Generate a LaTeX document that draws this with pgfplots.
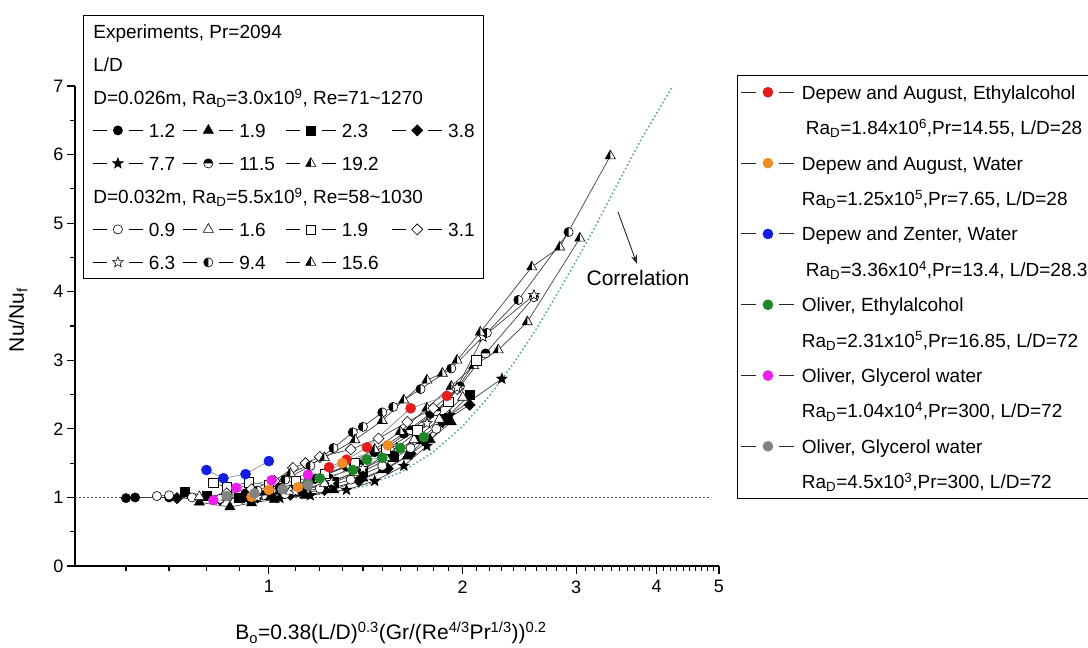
\documentclass[border=0pt]{standalone}
\usepackage{fontspec}
\setmainfont{Liberation Sans}
\usepackage{pgfplots}
\pgfplotsset{compat=1.18}
\usetikzlibrary{arrows.meta}

\definecolor{cRed}{RGB}{228,28,28}
\definecolor{cOrange}{RGB}{238,140,40}
\definecolor{cBlue}{RGB}{20,30,225}
\definecolor{cGreen}{RGB}{30,135,40}
\definecolor{cMag}{RGB}{235,30,235}
\definecolor{cGray}{RGB}{130,130,130}
\definecolor{cCorr}{RGB}{95,165,175}

\newcommand\legfont{\fontsize{19}{22}\selectfont}
\newcommand\tickfont{\fontsize{18}{20}\selectfont}
\newcommand\labfont{\fontsize{21}{24}\selectfont}
% fixed-height strut for the key rows
\newcommand\lstrut{\rule[-6.5pt]{0pt}{22pt}}

% triangle, left half filled
\pgfdeclareplotmark{halftri}{%
  \begin{pgfscope}\pgfsetfillcolor{white}%
  \pgfpathmoveto{\pgfqpoint{0pt}{\pgfplotmarksize}}%
  \pgfpathlineto{\pgfqpoint{-.866\pgfplotmarksize}{-.5\pgfplotmarksize}}%
  \pgfpathlineto{\pgfqpoint{.866\pgfplotmarksize}{-.5\pgfplotmarksize}}%
  \pgfpathclose\pgfusepathqfill\end{pgfscope}%
  \pgfpathmoveto{\pgfqpoint{0pt}{\pgfplotmarksize}}%
  \pgfpathlineto{\pgfqpoint{-.866\pgfplotmarksize}{-.5\pgfplotmarksize}}%
  \pgfpathlineto{\pgfqpoint{0pt}{-.5\pgfplotmarksize}}%
  \pgfpathclose\pgfusepathqfill
  \pgfpathmoveto{\pgfqpoint{0pt}{\pgfplotmarksize}}%
  \pgfpathlineto{\pgfqpoint{-.866\pgfplotmarksize}{-.5\pgfplotmarksize}}%
  \pgfpathlineto{\pgfqpoint{.866\pgfplotmarksize}{-.5\pgfplotmarksize}}%
  \pgfpathclose\pgfusepathqstroke}
% circle, left half filled
\pgfdeclareplotmark{halfcircL}{%
  \begin{pgfscope}\pgfsetfillcolor{white}%
  \pgfpathcircle{\pgfpointorigin}{\pgfplotmarksize}\pgfusepathqfill\end{pgfscope}%
  \pgfpathmoveto{\pgfqpoint{0pt}{\pgfplotmarksize}}%
  \pgfpatharc{90}{270}{\pgfplotmarksize}\pgfpathclose\pgfusepathqfill
  \pgfpathcircle{\pgfpointorigin}{\pgfplotmarksize}\pgfusepathqstroke}
% circle, upper half filled
\pgfdeclareplotmark{halfcircT}{%
  \begin{pgfscope}\pgfsetfillcolor{white}%
  \pgfpathcircle{\pgfpointorigin}{\pgfplotmarksize}\pgfusepathqfill\end{pgfscope}%
  \pgfpathmoveto{\pgfqpoint{\pgfplotmarksize}{0pt}}%
  \pgfpatharc{0}{180}{\pgfplotmarksize}\pgfpathclose\pgfusepathqfill
  \pgfpathcircle{\pgfpointorigin}{\pgfplotmarksize}\pgfusepathqstroke}
% square rotated by 45 degrees
\pgfdeclareplotmark{fdiam}{%
  \pgfpathmoveto{\pgfqpoint{0pt}{1.2\pgfplotmarksize}}%
  \pgfpathlineto{\pgfqpoint{1.2\pgfplotmarksize}{0pt}}%
  \pgfpathlineto{\pgfqpoint{0pt}{-1.2\pgfplotmarksize}}%
  \pgfpathlineto{\pgfqpoint{-1.2\pgfplotmarksize}{0pt}}%
  \pgfpathclose\pgfusepathqfillstroke}
% five-pointed star
\pgfdeclareplotmark{fstar}{%
  \pgfpathmoveto{\pgfqpointpolar{90}{1.2\pgfplotmarksize}}%
  \pgfpathlineto{\pgfqpointpolar{126}{.5\pgfplotmarksize}}%
  \pgfpathlineto{\pgfqpointpolar{162}{1.2\pgfplotmarksize}}%
  \pgfpathlineto{\pgfqpointpolar{198}{.5\pgfplotmarksize}}%
  \pgfpathlineto{\pgfqpointpolar{234}{1.2\pgfplotmarksize}}%
  \pgfpathlineto{\pgfqpointpolar{270}{.5\pgfplotmarksize}}%
  \pgfpathlineto{\pgfqpointpolar{306}{1.2\pgfplotmarksize}}%
  \pgfpathlineto{\pgfqpointpolar{342}{.5\pgfplotmarksize}}%
  \pgfpathlineto{\pgfqpointpolar{18}{1.2\pgfplotmarksize}}%
  \pgfpathlineto{\pgfqpointpolar{54}{.5\pgfplotmarksize}}%
  \pgfpathclose\pgfusepathqfillstroke}

\pgfplotsset{
  expt/.style={black!75, line width=0.7pt, mark size=4.6pt,
    mark options={draw=black, fill=black, solid, line width=0.6pt}},
  open/.style={mark options={draw=black, fill=white, solid, line width=0.6pt}},
  tri/.style={mark size=5.8pt},
  lit/.style={black!50, line width=0.6pt, mark=*, mark size=5pt,
    mark options={draw=#1, fill=#1, solid}},
  symleg/.style={legend image code/.code={%
    \path[draw=none, fill=none] (0pt,0pt) -- (56pt,0pt);
    \draw[black, line width=0.9pt] (0pt,0pt)--(14pt,0pt) (36pt,0pt)--(50pt,0pt);
    \draw[##1] plot coordinates {(25pt,0pt)};}},
  litleg/.style={legend image code/.code={%
    \path[draw=none, fill=none] (0pt,0pt) -- (61pt,0pt);
    \draw[black!85, line width=0.9pt] (0pt,0pt)--(15pt,0pt) (38pt,0pt)--(53pt,0pt);
    \draw[##1] plot coordinates {(27pt,0pt)};}},
  headleg/.style={legend image code/.code={%
    \node[overlay, anchor=west, inner sep=0pt, draw=none] at (0pt,0pt) {#1\lstrut};}},
}

\begin{document}
\begin{tikzpicture}[x=1pt,y=1pt]
\useasboundingbox (0,0) rectangle (1088,648);

\begin{axis}[
  at={(75pt,82pt)}, anchor=south west,
  scale only axis, width=644pt, height=480pt,
  xmode=log, xmin=0.5, xmax=5, ymin=0, ymax=7,
  axis lines*=left,
  axis line style={line width=1.4pt},
  tick align=outside,
  xtick={1,2,3,4,5}, xticklabels={1,2,3,4,5},
  minor xtick={0.6,0.7,0.8,0.9,1.1,1.2,1.3,1.4,1.5,1.6,1.7,1.8,1.9,
    2.1,2.2,2.3,2.4,2.5,2.6,2.7,2.8,2.9,3.1,3.2,3.3,3.4,3.5,3.6,3.7,3.8,3.9,
    4.1,4.2,4.3,4.4,4.5,4.6,4.7,4.8,4.9},
  ytick={0,1,2,3,4,5,6,7},
  minor ytick={0.5,1.5,2.5,3.5,4.5,5.5,6.5},
  major tick length=8pt, minor tick length=5pt,
  every tick/.style={black, line width=1.2pt},
  ticklabel style={font=\tickfont},
  xticklabel style={yshift=-3pt},
  /pgf/number format/assume math mode=true,
  clip=false,
  legend cell align=left,
  legend style={at={(1.028,1.0229)}, anchor=north west, draw=black,
    line width=0.9pt, font=\legfont, row sep=18.4pt, column sep=0pt,
    inner xsep=3pt, inner ysep=8.3pt, nodes={inner sep=0pt}},
]

% reference level Nu/Nu_f = 1
\addplot[black!70, line width=1.1pt, dash pattern=on 2pt off 2pt, forget plot]
  coordinates {(0.5,1) (4.83,1)};
% correlation curve
\addplot[cCorr, line width=1.6pt, dash pattern=on 1.6pt off 2.4pt, forget plot] coordinates {
  (0.95,1.0) (1.0,1.01) (1.2,1.05) (1.4,1.16) (1.6,1.36) (1.8,1.66)
  (2.0,2.04) (2.2,2.48) (2.4,2.96) (2.6,3.45) (2.8,3.96) (3.0,4.45)
  (3.2,4.92) (3.5,5.62) (3.8,6.25) (4.24,7.0)};

% experiments, D = 0.026 m
\addplot[expt, mark=*, forget plot] coordinates {
  (0.60,0.99) (0.62,1.00) (0.70,1.00) (0.80,1.02) (0.92,1.06) (1.04,1.14)
  (1.18,1.27) (1.32,1.45) (1.46,1.66) (1.62,1.93) (1.78,2.22)};
\addplot[expt, tri, mark=triangle*, forget plot] coordinates {
  (0.78,0.93) (0.87,0.86) (0.94,0.92) (1.02,0.97) (1.14,1.03) (1.26,1.11)
  (1.40,1.28) (1.50,1.40) (1.64,1.60) (1.78,1.84) (1.92,2.10)};
\addplot[expt, mark=square*, forget plot] coordinates {
  (0.74,1.08) (0.80,1.02) (0.90,1.00) (1.00,1.04) (1.12,1.10) (1.26,1.22)
  (1.40,1.38) (1.56,1.60) (1.72,1.86) (1.88,2.14) (2.05,2.50)};
\addplot[expt, mark=fdiam, forget plot] coordinates {
  (0.72,0.99) (0.84,0.97) (0.96,1.00) (1.08,1.04) (1.22,1.11) (1.38,1.24)
  (1.53,1.42) (1.66,1.64) (1.86,2.10) (2.05,2.35)};
\addplot[expt, mark=fstar, forget plot] coordinates {
  (0.92,0.98) (1.04,0.99) (1.16,1.03) (1.32,1.11) (1.46,1.24) (1.62,1.46)
  (1.76,1.75) (1.91,2.20) (2.30,2.73)};
\addplot[expt, mark=halfcircT, forget plot] coordinates {
  (0.98,1.03) (1.10,1.12) (1.24,1.28) (1.38,1.48) (1.52,1.72) (1.66,1.98)
  (1.82,2.26) (1.98,2.62) (2.17,3.10) (2.58,3.92)};
\addplot[expt, tri, mark=halftri, forget plot] coordinates {
  (1.04,1.10) (1.18,1.26) (1.32,1.46) (1.46,1.70) (1.60,1.96) (1.76,2.30)
  (1.92,2.62) (2.08,2.92) (2.27,3.15) (2.52,3.56) (3.04,4.78)};

% experiments, D = 0.032 m
\addplot[expt, open, mark=*, forget plot] coordinates {
  (0.67,1.02) (0.70,1.03) (0.76,1.00) (0.84,0.98) (0.94,1.00) (1.06,1.05)
  (1.20,1.13) (1.34,1.26) (1.50,1.46) (1.66,1.72) (1.82,2.00)};
\addplot[expt, open, tri, mark=triangle*, forget plot] coordinates {
  (0.78,1.01) (0.86,1.00) (0.96,1.03) (1.08,1.09) (1.22,1.20) (1.36,1.36)
  (1.52,1.58) (1.68,1.84) (1.84,2.14) (2.00,2.46)};
\addplot[expt, open, mark=square*, forget plot] coordinates {
  (0.82,1.21) (0.86,1.15) (0.93,1.22) (1.00,1.18) (1.10,1.24) (1.22,1.34)
  (1.36,1.50) (1.52,1.70) (1.70,1.98) (1.90,2.40) (2.10,3.00)};
\addplot[expt, open, mark=fdiam, forget plot] coordinates {
  (0.86,1.06) (0.94,1.12) (1.02,1.24) (1.09,1.43) (1.14,1.50) (1.20,1.59)
  (1.34,1.70) (1.48,1.86) (1.64,2.10) (1.80,2.30) (1.96,2.58)};
\addplot[expt, open, mark=fstar, forget plot] coordinates {
  (0.96,1.00) (1.10,1.08) (1.25,1.22) (1.40,1.42) (1.58,1.72) (1.76,2.08)
  (1.96,2.60) (2.15,3.34) (2.58,3.95)};
\addplot[expt, mark=halfcircL, forget plot] coordinates {
  (0.96,1.10) (1.06,1.26) (1.16,1.46) (1.26,1.72) (1.35,1.95) (1.40,2.03)
  (1.50,2.24) (1.56,2.32) (1.72,2.58) (1.92,2.88) (2.18,3.40) (2.44,3.88)
  (2.92,4.87)};
\addplot[expt, tri, mark=halftri, forget plot] coordinates {
  (1.08,1.35) (1.22,1.58) (1.36,1.84) (1.50,2.12) (1.62,2.42) (1.76,2.71)
  (1.86,2.81) (1.96,3.00) (2.13,3.41) (2.56,4.36) (2.83,4.65) (3.39,5.98)};

% literature data
\addplot[lit=cRed, litleg] coordinates {
  (1.24,1.44) (1.32,1.55) (1.42,1.73) (1.66,2.30) (1.89,2.48)};
\addlegendentry{Depew and August, Ethylalcohol\lstrut}
\addlegendimage{empty legend}
\addlegendentry{\hspace*{4pt}Ra\textsubscript{D}=1.84x10\textsuperscript{6},Pr=14.55, L/D=28\lstrut}
\addplot[lit=cOrange, litleg] coordinates {
  (0.94,1.01) (1.00,1.11) (1.11,1.15) (1.30,1.50) (1.53,1.76)};
\addlegendentry{Depew and August, Water\lstrut}
\addlegendimage{empty legend}
\addlegendentry{Ra\textsubscript{D}=1.25x10\textsuperscript{5},Pr=7.65, L/D=28\lstrut}
\addplot[lit=cBlue, litleg] coordinates {
  (0.80,1.40) (0.85,1.28) (0.92,1.34) (1.00,1.53)};
\addlegendentry{Depew and Zenter, Water\lstrut}
\addlegendimage{empty legend}
\addlegendentry{\hspace*{4pt}Ra\textsubscript{D}=3.36x10\textsuperscript{4},Pr=13.4, L/D=28.3\hspace*{20pt}\lstrut}
\addplot[lit=cGreen, litleg] coordinates {
  (1.15,1.22) (1.20,1.28) (1.35,1.40) (1.42,1.55) (1.50,1.58) (1.60,1.72)
  (1.74,1.88)};
\addlegendentry{Oliver, Ethylalcohol\lstrut}
\addlegendimage{empty legend}
\addlegendentry{Ra\textsubscript{D}=2.31x10\textsuperscript{5},Pr=16.85, L/D=72\lstrut}
\addplot[lit=cMag, litleg] coordinates {
  (0.82,0.96) (0.89,1.14) (1.01,1.25) (1.15,1.33)};
\addlegendentry{Oliver, Glycerol water\lstrut}
\addlegendimage{empty legend}
\addlegendentry{Ra\textsubscript{D}=1.04x10\textsuperscript{4},Pr=300, L/D=72\lstrut}
\addplot[lit=cGray, litleg] coordinates {
  (0.86,1.02) (0.95,1.06) (1.05,1.12) (1.15,1.18)};
\addlegendentry{Oliver, Glycerol water\lstrut}
\addlegendimage{empty legend}
\addlegendentry{Ra\textsubscript{D}=4.5x10\textsuperscript{3},Pr=300, L/D=72\lstrut}
\end{axis}

% key for the experimental series
\begin{axis}[
  at={(75pt,82pt)}, anchor=south west,
  scale only axis, width=644pt, height=480pt,
  hide axis, xmin=0, xmax=1, ymin=0, ymax=1,
  legend columns=4, legend cell align=left,
  legend style={at={(0.0124,1.148)}, anchor=north west, draw=black,
    line width=0.9pt, font=\legfont, row sep=16pt, column sep=0pt,
    inner xsep=9pt, inner ysep=7.5pt, nodes={inner sep=0pt}},
]
\addlegendimage{headleg={Experiments, Pr=2094}}\addlegendentry{\lstrut}
\addlegendimage{empty legend}\addlegendentry{\lstrut}
\addlegendimage{empty legend}\addlegendentry{\lstrut}
\addlegendimage{empty legend}\addlegendentry{\lstrut}
\addlegendimage{headleg={L/D}}\addlegendentry{\lstrut}
\addlegendimage{empty legend}\addlegendentry{\lstrut}
\addlegendimage{empty legend}\addlegendentry{\lstrut}
\addlegendimage{empty legend}\addlegendentry{\lstrut}
\addlegendimage{headleg={D=0.026m, Ra\textsubscript{D}=3.0x10\textsuperscript{9}, Re=71\textasciitilde 1270}}\addlegendentry{\lstrut}
\addlegendimage{empty legend}\addlegendentry{\lstrut}
\addlegendimage{empty legend}\addlegendentry{\lstrut}
\addlegendimage{empty legend}\addlegendentry{\lstrut}
\addlegendimage{expt, symleg, mark=*}\addlegendentry{\makebox[34pt][l]{1.2}\lstrut}
\addlegendimage{expt, tri, symleg, mark=triangle*}\addlegendentry{\makebox[46pt][l]{1.9}\lstrut}
\addlegendimage{expt, symleg, mark=square*}\addlegendentry{\makebox[50pt][l]{2.3}\lstrut}
\addlegendimage{expt, symleg, mark=fdiam}\addlegendentry{\makebox[26pt][l]{3.8}\lstrut}
\addlegendimage{expt, symleg, mark=fstar}\addlegendentry{7.7\lstrut}
\addlegendimage{expt, symleg, mark=halfcircT}\addlegendentry{11.5\lstrut}
\addlegendimage{expt, tri, symleg, mark=halftri}\addlegendentry{19.2\lstrut}
\addlegendimage{empty legend}\addlegendentry{\lstrut}
\addlegendimage{headleg={D=0.032m, Ra\textsubscript{D}=5.5x10\textsuperscript{9}, Re=58\textasciitilde 1030}}\addlegendentry{\lstrut}
\addlegendimage{empty legend}\addlegendentry{\lstrut}
\addlegendimage{empty legend}\addlegendentry{\lstrut}
\addlegendimage{empty legend}\addlegendentry{\lstrut}
\addlegendimage{expt, open, symleg, mark=*}\addlegendentry{0.9\lstrut}
\addlegendimage{expt, open, tri, symleg, mark=triangle*}\addlegendentry{1.6\lstrut}
\addlegendimage{expt, open, symleg, mark=square*}\addlegendentry{1.9\lstrut}
\addlegendimage{expt, open, symleg, mark=fdiam}\addlegendentry{3.1\lstrut}
\addlegendimage{expt, open, symleg, mark=fstar}\addlegendentry{6.3\lstrut}
\addlegendimage{expt, symleg, mark=halfcircL}\addlegendentry{9.4\lstrut}
\addlegendimage{expt, tri, symleg, mark=halftri}\addlegendentry{15.6\lstrut}
\addlegendimage{empty legend}\addlegendentry{\lstrut}
\end{axis}

% axis titles and the note on the correlation curve
\node[rotate=90, font=\labfont] at (18,328) {Nu/Nu\textsubscript{f}};
\node[anchor=base, font=\labfont] at (391,8)
  {B\textsubscript{o}=0.38(L/D)\textsuperscript{0.3}(Gr/(Re\textsuperscript{4/3}Pr\textsuperscript{1/3}))\textsuperscript{0.2}};
\draw[-{Stealth[length=9pt,width=6pt]}, line width=0.9pt, black!85] (618,436) -- (637,384);
\node[font=\fontsize{21}{24}\selectfont] at (638,370) {Correlation};
\end{tikzpicture}
\end{document}
